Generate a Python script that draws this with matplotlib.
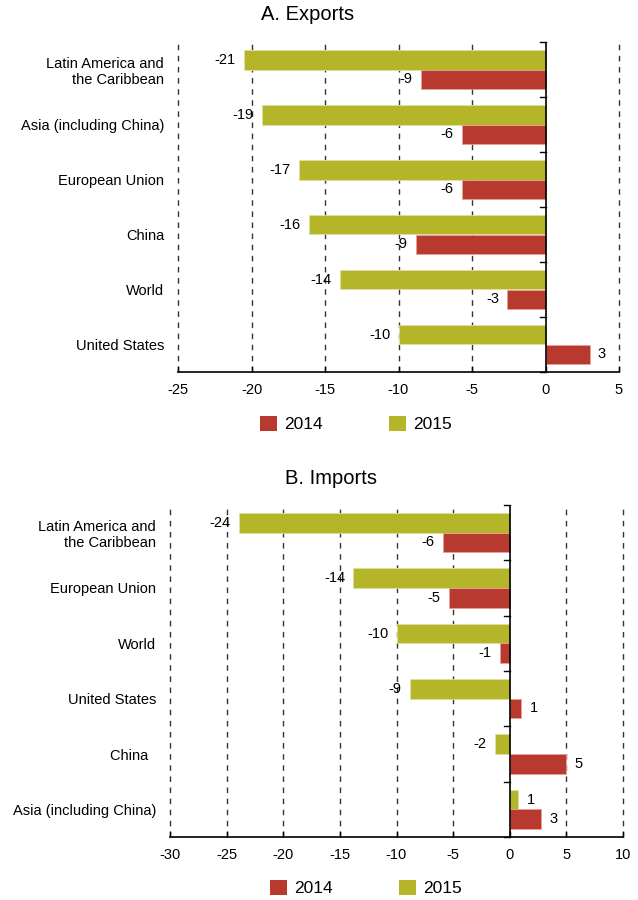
import matplotlib
matplotlib.use("Agg")
import matplotlib.pyplot as plt
import numpy as np
from matplotlib.patches import Patch

plt.rcParams['font.family'] = ['Liberation Sans', 'DejaVu Sans']

# ---- Data ----
exp_categories = ["Latin America and\nthe Caribbean", "Asia (including China)", "European Union",
                  "China", "World", "United States"]
exp_2015 = [-20.5, -19.3, -16.8, -16.1, -14.0, -10.0]
exp_2014 = [-8.5, -5.7, -5.7, -8.8, -2.6, 3.0]
exp_2015_labels = ["-21", "-19", "-17", "-16", "-14", "-10"]
exp_2014_labels = ["-9", "-6", "-6", "-9", "-3", "3"]
exp_ticks = [-25, -20, -15, -10, -5, 0, 5]

imp_categories = ["Latin America and\nthe Caribbean", "European Union", "World",
                  "United States", "China  ", "Asia (including China)"]
imp_2015 = [-23.9, -13.8, -10.0, -8.8, -1.3, 0.75]
imp_2014 = [-5.9, -5.4, -0.9, 1.0, 5.0, 2.8]
imp_2015_labels = ["-24", "-14", "-10", "-9", "-2", "1"]
imp_2014_labels = ["-6", "-5", "-1", "1", "5", "3"]
imp_ticks = [-30, -25, -20, -15, -10, -5, 0, 5, 10]

years = ["2014", "2015"]
RED = "#B83A2E"
OLIVE = "#B5B52A"

fig = plt.figure(figsize=(6.38, 9.0), dpi=100)

def panel(rect, cats, v15, v14, l15, l14, ticks, title, title_x, title_y, leg_y, leg_x):
    ax = fig.add_axes(rect)
    n = len(cats)
    y = np.arange(n)
    h = 0.355
    ax.barh(y - h / 2, v15, height=h, color=OLIVE, edgecolor="#e0e0a0", linewidth=0.6, zorder=3)
    ax.barh(y + h / 2, v14, height=h, color=RED, edgecolor="#e8a098", linewidth=0.6, zorder=3)
    for yi, v, lab in zip(y - h / 2, v15, l15):
        ax.annotate(lab, (v, yi), xytext=(-6 if v < 0 else 6, 0), textcoords="offset points",
                    ha="right" if v < 0 else "left", va="center", fontsize=10.5, zorder=4)
    for yi, v, lab in zip(y + h / 2, v14, l14):
        ax.annotate(lab, (v, yi), xytext=(-6 if v < 0 else 6, 0), textcoords="offset points",
                    ha="right" if v < 0 else "left", va="center", fontsize=10.5, zorder=4)
    ax.set_xlim(ticks[0], ticks[-1])
    ax.set_ylim(n - 0.5, -0.5)
    ax.set_xticks(ticks)
    ax.set_xticklabels([str(t) for t in ticks], fontsize=10.5)
    for t in ticks:
        if t != 0:
            ax.axvline(t, color="#333333", linestyle=(0, (4, 4)), linewidth=1.0, zorder=1,
                       clip_on=False)
    # y axis at zero
    ax.axvline(0, color="black", linewidth=1.2, zorder=5)
    for b in np.arange(n + 1) - 0.5:
        ax.plot([-0.35 * (ticks[-1] - ticks[0]) / 30, 0], [b, b], color="black", lw=1.0, zorder=5,
                clip_on=False)
    for s in ["left", "right", "top"]:
        ax.spines[s].set_visible(False)
    ax.spines["bottom"].set_linewidth(1.2)
    ax.tick_params(axis="x", direction="in", length=4, width=1, pad=8)
    ax.set_yticks(y)
    ax.set_yticklabels(cats, fontsize=10.5)
    ax.tick_params(axis="y", length=0, pad=10)
    fig.text(title_x, title_y, title, ha="center", va="center", fontsize=14.5)
    handles = [Patch(facecolor=RED, label=years[0]), Patch(facecolor=OLIVE, label=years[1])]
    fig.legend(handles=handles, loc="center", bbox_to_anchor=(leg_x, leg_y), ncol=2, frameon=False,
               fontsize=12.5, handlelength=1.0, handleheight=1.0, columnspacing=3.8, handletextpad=0.4)
    return ax

panel([178 / 638, 1 - 372 / 900, (619 - 178) / 638, (372 - 42) / 900],
      exp_categories, exp_2015, exp_2014, exp_2015_labels, exp_2014_labels, exp_ticks,
      "A. Exports", 308 / 638, 1 - 15 / 900, 1 - 424 / 900, 356 / 638)
panel([170 / 638, 1 - 837 / 900, (623 - 170) / 638, (837 - 505) / 900],
      imp_categories, imp_2015, imp_2014, imp_2015_labels, imp_2014_labels, imp_ticks,
      "B. Imports", 331 / 638, 1 - 478 / 900, 1 - 888 / 900, 366 / 638)

fig.savefig("out.png", dpi=100)
